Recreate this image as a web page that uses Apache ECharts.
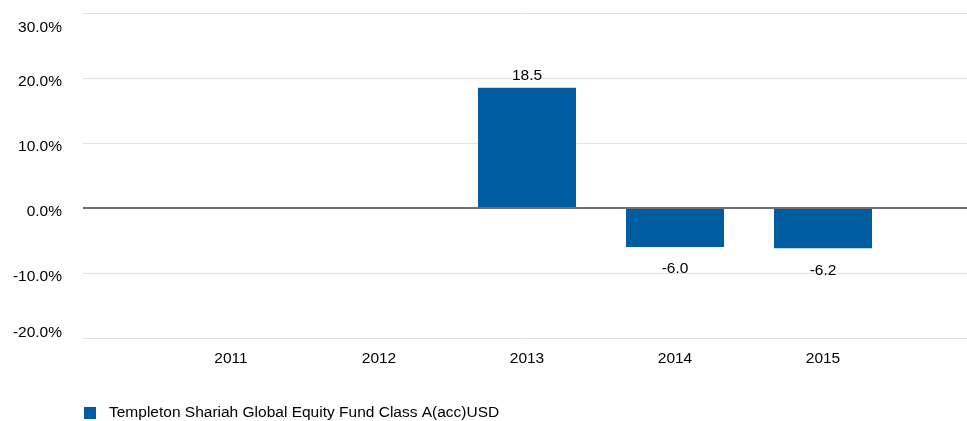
<!DOCTYPE html>
<html><head><meta charset="utf-8">
<script src="https://cdn.jsdelivr.net/npm/echarts@6/dist/echarts.min.js"></script>
<style>html,body{margin:0;padding:0;background:#fff}#c{width:967px;height:421px}</style>
</head><body><div id="c"></div>
<script>
const categories = ['', '2011', '2012', '2013', '2014', '2015', ''];
const fundValues = [null, null, null, 18.5, -6.0, -6.2, null];
const seriesName = 'Templeton Shariah Global Equity Fund Class A(acc)USD';
const yMin = -20, yMax = 30, yStep = 10;

const FONT = '"Liberation Sans", Arial, sans-serif';
const FS = 15.5;
const chart = echarts.init(document.getElementById('c'));
chart.setOption({
  animation: false,
  textStyle: { fontFamily: FONT },
  grid: { left: 83, top: 13, right: -4, height: 325, containLabel: false, outerBoundsMode: 'none' },
  legend: {
    left: 84, top: 405, padding: 0, itemWidth: 12, itemHeight: 12, itemGap: 10,
    icon: 'rect',
    textStyle: { fontFamily: FONT, fontSize: FS, color: '#000', padding: [0, 0, 0, 8] },
    data: [seriesName]
  },
  xAxis: {
    type: 'category', data: categories, boundaryGap: false,
    axisLine: { show: false }, axisTick: { show: false },
    splitLine: { show: false },
    axisLabel: { interval: 0, margin: 13, fontFamily: FONT, fontSize: FS, color: '#000' }
  },
  yAxis: {
    type: 'value', min: yMin, max: yMax, interval: yStep,
    axisLine: { show: false }, axisTick: { show: false },
    splitLine: { lineStyle: { color: '#e2e2e2', width: 1 } },
    axisLabel: {
      margin: 21, fontFamily: FONT, fontSize: FS, color: '#000',
      formatter: function (v) {
        const s = v.toFixed(1) + '%';
        if (v === yMax) return '{t|' + s + '}';
        if (v === yMin) return '{b|' + s + '}';
        return '{m|' + s + '}';
      },
      rich: {
        t: { fontFamily: FONT, fontSize: FS, color: '#000', padding: [30, 0, 0, 0] },
        b: { fontFamily: FONT, fontSize: FS, color: '#000', padding: [0, 0, 10, 0] },
        m: { fontFamily: FONT, fontSize: FS, color: '#000', padding: [8, 0, 0, 0] }
      }
    }
  },
  series: [{
    name: seriesName, type: 'bar', barWidth: 98,
    itemStyle: { color: '#005ca0' },
    data: fundValues.map(v => v === null ? null : {
      value: v,
      label: { position: v >= 0 ? 'top' : 'bottom', distance: v >= 0 ? 4 : 14 }
    }),
    label: {
      show: true, fontFamily: FONT, fontSize: FS, color: '#000',
      formatter: p => Number(p.value).toFixed(1)
    },
    markLine: {
      silent: true, symbol: 'none', label: { show: false },
      lineStyle: { color: '#707070', width: 2, type: 'solid' },
      data: [{ yAxis: 0 }]
    }
  }]
});
</script>
</body></html>
